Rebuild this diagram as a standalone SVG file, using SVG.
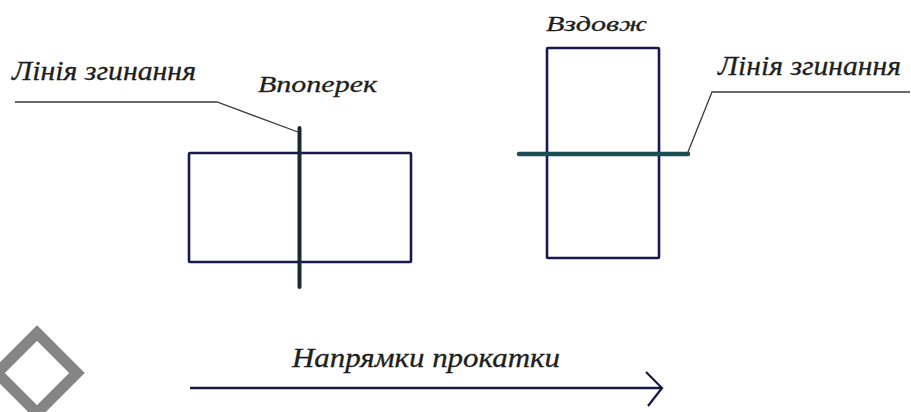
<svg xmlns="http://www.w3.org/2000/svg" width="911" height="412" viewBox="0 0 911 412">
<style>
.lbl{font-family:"Liberation Serif","Times New Roman",serif;font-style:italic;fill:#1e1e1e;stroke:#1e1e1e;stroke-width:0.3}
.sheet{fill:none;stroke:#16184f;stroke-width:2.6}
.leader{fill:none;stroke:#3a3a3a;stroke-width:1.3}
</style>
<rect width="911" height="412" fill="#ffffff"/>
<path d="M37,333 L77,373 L37,413 L-3,373 Z" fill="none" stroke="#858585" stroke-width="11"/>
<g id="across">
<rect class="sheet" x="189" y="153" width="222" height="109" rx="1"/>
<line x1="299.5" y1="128" x2="299.5" y2="287" stroke="#182a34" stroke-width="4" stroke-linecap="round"/>
<text class="lbl" x="258" y="92" font-size="24" textLength="119" lengthAdjust="spacingAndGlyphs">Вnonepeк</text>
</g>
<g id="along">
<rect class="sheet" x="547" y="48" width="112" height="210" rx="1"/>
<line x1="519" y1="154" x2="688" y2="154" stroke="#1c4f55" stroke-width="4.5" stroke-linecap="round"/>
<text class="lbl" x="546" y="31" font-size="22" textLength="101" lengthAdjust="spacingAndGlyphs">Вздовж</text>
</g>
<g id="label-left">
<text class="lbl" x="12" y="80" font-size="27" textLength="184" lengthAdjust="spacingAndGlyphs">Лінія згинання</text>
</g>
<g id="label-right">
<text class="lbl" x="718" y="75" font-size="27" textLength="183" lengthAdjust="spacingAndGlyphs">Лінія згинання</text>
</g>
<g id="direction">
<text class="lbl" x="292" y="367" font-size="27" textLength="268" lengthAdjust="spacingAndGlyphs">Напрямки прокатки</text>
</g>
<g id="connectors">
<polyline class="leader" points="15,102 217,102 298,132"/>
<polyline class="leader" points="688,152 712,92 910,92"/>
<line x1="190" y1="388" x2="662" y2="388" stroke="#141a45" stroke-width="2.5"/>
<polyline points="646,372 662,388 648,406" fill="none" stroke="#141a45" stroke-width="2.2"/>
</g>
</svg>
